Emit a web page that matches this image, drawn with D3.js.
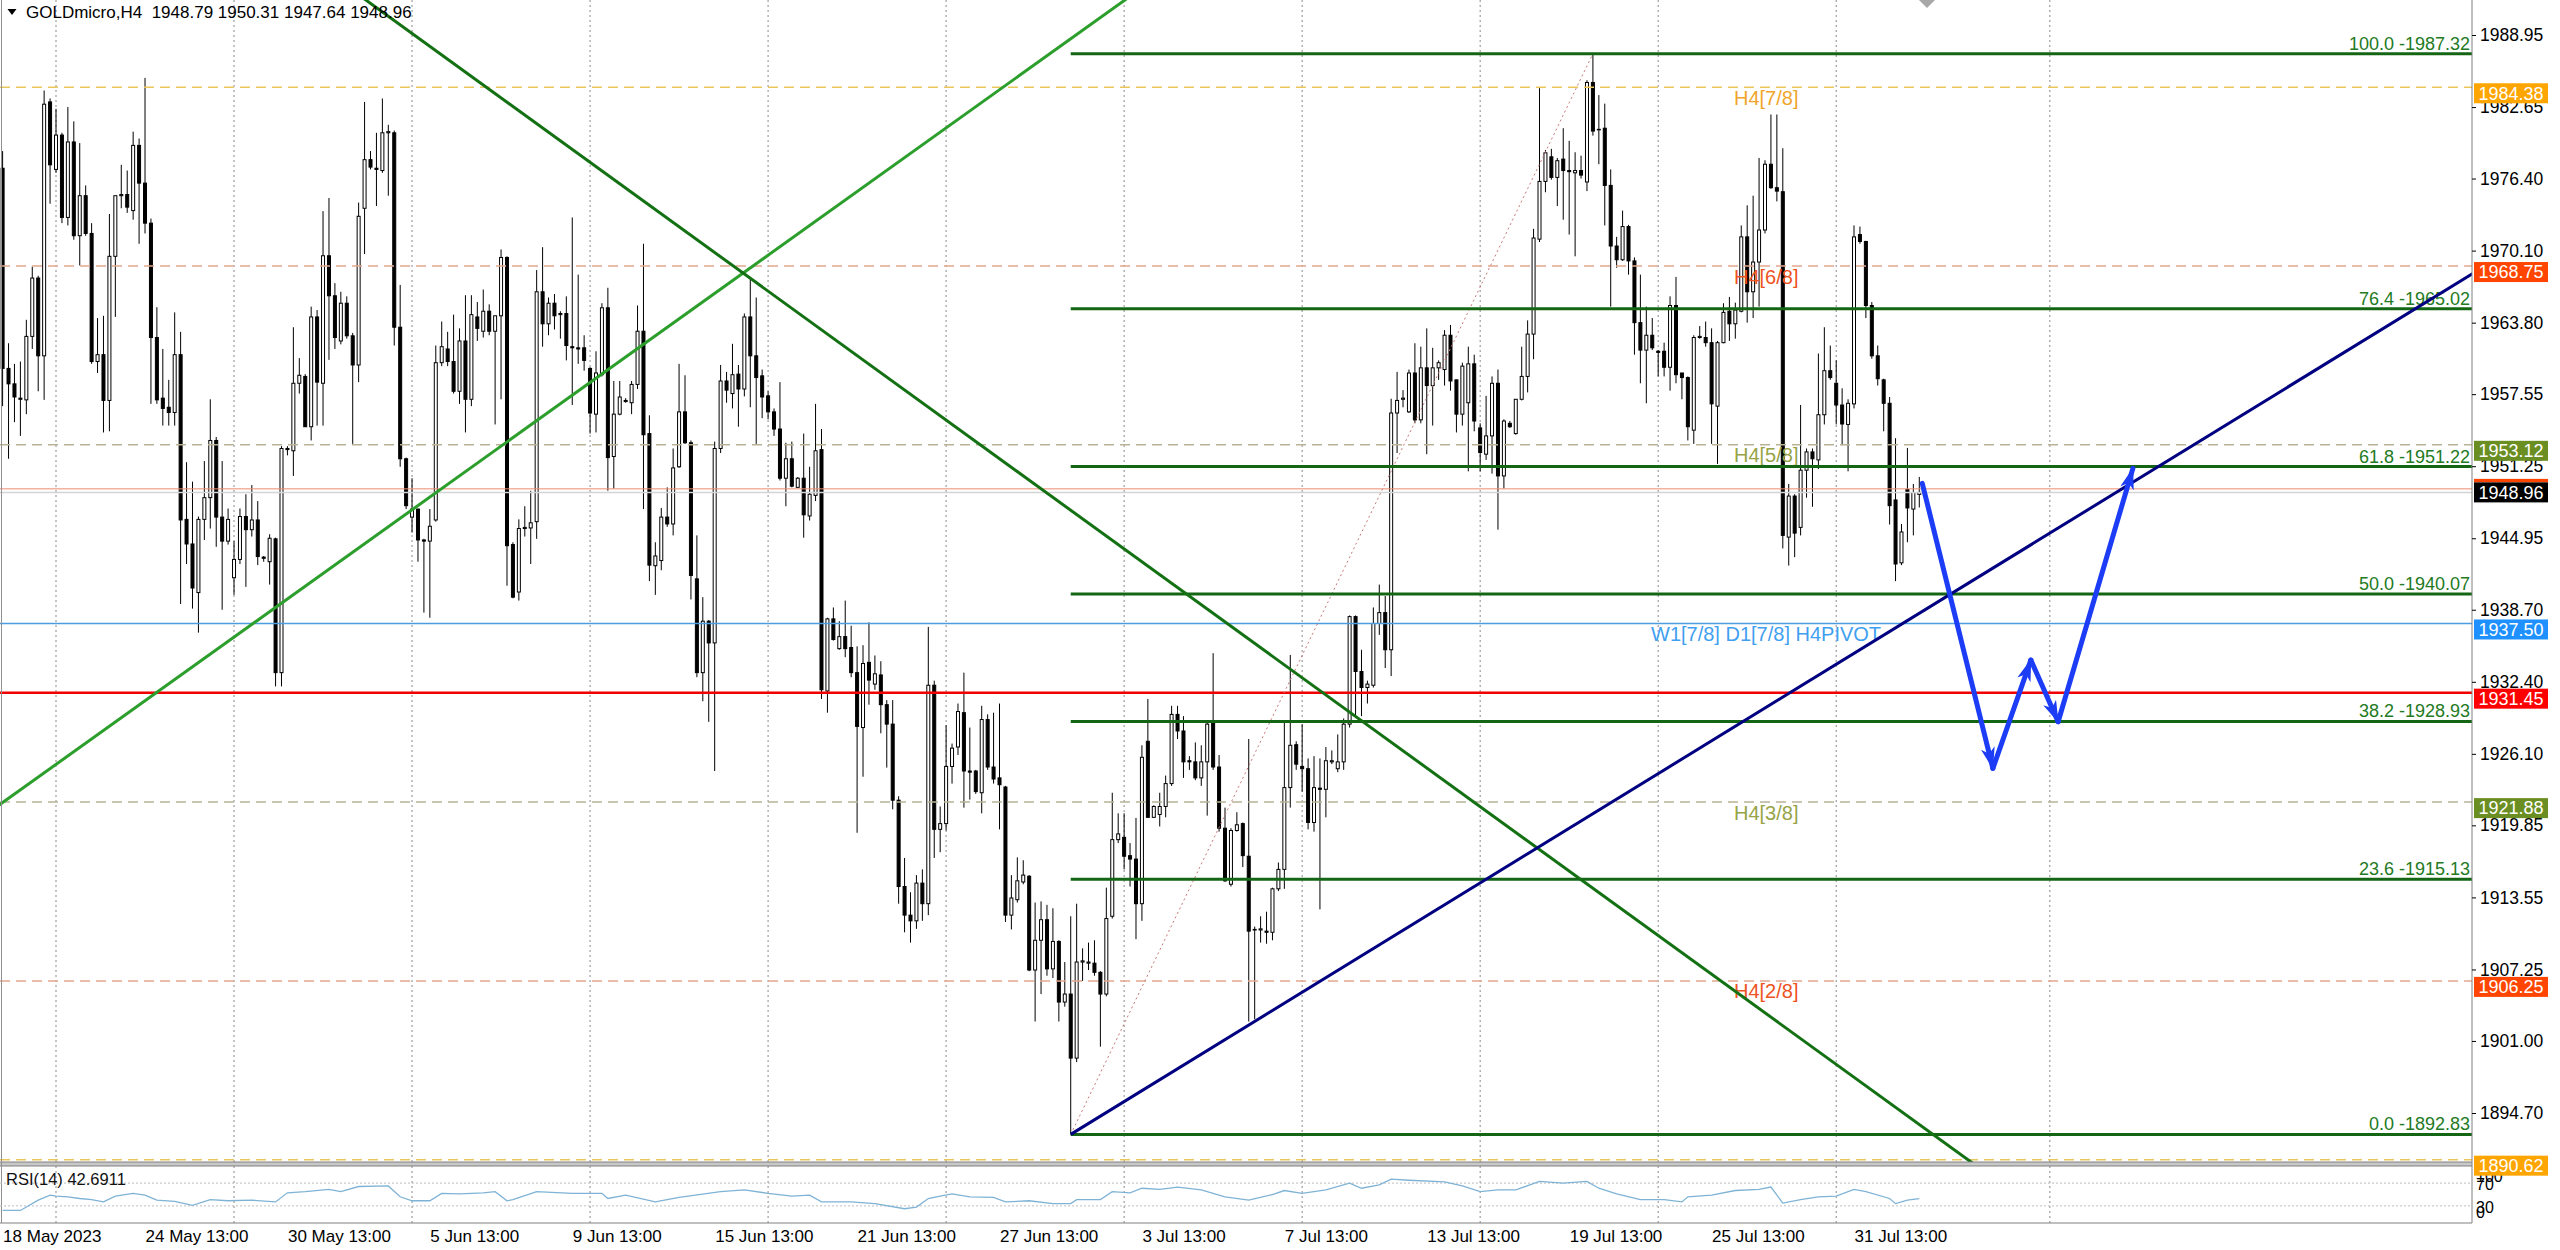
<!DOCTYPE html>
<html><head><meta charset="utf-8">
<script src="https://cdn.jsdelivr.net/npm/d3@7"></script>
<style>
body{margin:0;background:#fff;}
svg{display:block;}
text{font-family:"Liberation Sans",Arial,sans-serif;}
</style>
</head><body>
<svg id="c" width="2560" height="1250"></svg>
<script>
// ---------------- DATA ----------------
const priceTicks=[1988.95,1982.65,1976.40,1970.10,1963.80,1957.55,1951.25,1944.95,1938.70,1932.40,1926.10,1919.85,1913.55,1907.25,1901.00,1894.70];
const timeLabelBars=[0,24,48,72,96,120,144,168,192,216,240,264,288,312];
const timeLabels=["18 May 2023","24 May 13:00","30 May 13:00","5 Jun 13:00","9 Jun 13:00","15 Jun 13:00","21 Jun 13:00","27 Jun 13:00","3 Jul 13:00","7 Jul 13:00","13 Jul 13:00","19 Jul 13:00","25 Jul 13:00","31 Jul 13:00"];
const weekStartBars=[9,39,69,99,129,159,189,219,249,279,309,345];

const opens=[
1977.3,1959.8,1958.45,1957.2,1957.05,1962.6,1967.7,1960.9,1983.1,1977.2,
1980.2,1973.0,1979.6,1971.4,1974.9,1971.6,1960.4,1961.0,1957.0,1969.6,
1974.9,1975.0,1973.6,1979.3,1976.0,1972.5,1962.5,1957.2,1956.4,1955.95,
1961.0,1946.6,1944.45,1940.2,1946.6,1948.5,1953.5,1946.8,1944.7,1941.5,
1943.1,1946.85,1945.7,1946.55,1943.3,1942.9,1944.9,1933.2,1952.8,1952.6,
1958.5,1959.1,1954.7,1964.3,1958.5,1969.65,1966.15,1962.2,1965.5,1962.65,
1960.1,1973.8,1978.05,1977.3,1977.1,1980.4,1980.4,1963.4,1951.9,1946.8,
1947.5,1944.8,1944.7,1946.55,1960.3,1961.5,1960.4,1957.8,1962.2,1957.1,
1964.3,1963.05,1964.8,1963.05,1964.4,1969.5,1944.4,1940.25,1945.8,1945.85,
1946.4,1966.5,1963.7,1965.5,1964.5,1964.6,1961.7,1961.6,1961.6,1959.8,
1955.8,1959.25,1965.1,1952.1,1955.8,1957.0,1956.8,1958.4,1963.05,1954.1,
1942.55,1943.0,1946.8,1946.2,1951.2,1956.0,1953.3,1941.4,1933.2,1937.7,
1935.8,1952.8,1958.7,1957.6,1959.3,1958.0,1964.3,1960.9,1959.15,1957.4,
1956.0,1954.5,1950.2,1951.9,1949.4,1950.2,1946.9,1948.7,1952.7,1931.6,
1937.9,1935.3,1936.35,1935.4,1933.2,1928.4,1934.1,1932.2,1933.0,1930.4,
1928.7,1922.05,1914.5,1912.0,1911.5,1914.8,1913.0,1932.1,1919.5,1920.0,
1925.0,1926.7,1929.7,1924.6,1924.6,1922.7,1929.1,1924.95,1924.0,1923.2,
1912.0,1913.35,1914.9,1915.4,1907.2,1909.8,1911.6,1907.3,1909.7,1904.4,
1905.1,1899.5,1907.9,1907.8,1907.8,1907.0,1905.1,1911.9,1918.6,1918.8,
1917.2,1916.9,1913.0,1927.2,1920.55,1920.8,1921.5,1923.5,1929.55,1928.1,
1925.5,1925.4,1924.0,1925.4,1928.8,1924.95,1919.6,1914.7,1919.4,1920.0,
1917.15,1910.75,1910.7,1910.6,1910.5,1914.3,1916.0,1923.15,1926.9,1925.0,
1924.8,1920.1,1923.1,1923.0,1925.4,1924.8,1925.4,1928.7,1938.1,1933.3,
1931.9,1932.1,1937.5,1938.45,1935.2,1955.9,1957.1,1956.0,1959.4,1955.3,
1959.85,1958.3,1959.85,1959.7,1962.7,1958.8,1955.8,1956.8,1960.2,1954.6,
1952.3,1953.9,1958.5,1950.4,1955.0,1954.1,1957.1,1959.1,1962.8,1971.1,
1976.15,1978.3,1976.5,1978.1,1977.1,1976.9,1977.1,1976.1,1984.8,1980.7,
1980.8,1975.8,1970.5,1969.3,1972.2,1969.2,1963.8,1961.4,1962.7,1961.3,
1961.3,1959.9,1965.3,1959.4,1959.0,1954.4,1962.5,1962.5,1962.05,1956.5,
1962.05,1964.8,1963.7,1964.8,1971.3,1966.5,1969.1,1971.9,1977.65,1975.6,
1975.25,1945.05,1948.64,1945.9,1950.9,1952.5,1951.8,1955.75,1959.6,1958.5,
1956.6,1954.9,1956.7,1971.5,1970.9,1965.3,1960.9,1958.8,1956.75,1948.3,
1942.8,1949.2,1947.5,1948.79];
const highs=[
1978.8,1962.0,1960.2,1960.4,1964.05,1968.7,1967.9,1984.1,1983.4,1982.5,
1980.4,1982.65,1981.4,1979.5,1975.8,1972.5,1964.2,1964.4,1973.3,1974.9,
1977.6,1977.1,1980.5,1979.9,1985.2,1972.9,1965.15,1961.5,1958.8,1964.7,
1963.0,1951.6,1949.9,1946.85,1951.7,1957.1,1953.8,1951.7,1947.55,1944.7,
1947.55,1948.8,1949.6,1948.2,1943.4,1945.3,1945.0,1953.0,1953.0,1963.4,
1960.7,1959.3,1965.2,1964.9,1973.55,1974.7,1967.25,1966.5,1966.1,1962.9,
1974.3,1983.1,1978.8,1980.4,1983.4,1981.1,1980.6,1967.1,1952.0,1950.2,
1947.55,1944.9,1947.5,1961.8,1963.9,1963.0,1964.5,1963.3,1966.2,1966.2,
1965.6,1966.7,1965.4,1964.4,1970.2,1969.6,1944.6,1946.6,1947.75,1949.1,
1968.4,1970.4,1966.0,1966.3,1964.8,1966.1,1973.0,1968.0,1962.7,1959.9,
1961.3,1965.5,1966.85,1958.7,1958.7,1957.2,1958.7,1965.3,1970.7,1955.7,
1944.6,1947.6,1949.4,1952.8,1960.2,1959.2,1953.5,1945.2,1939.8,1937.8,
1953.4,1960.1,1959.5,1961.95,1960.1,1964.6,1967.7,1966.0,1959.7,1957.8,
1956.3,1958.6,1953.3,1953.4,1950.3,1954.1,1951.2,1956.7,1954.5,1938.0,
1938.9,1937.7,1939.5,1937.3,1935.5,1935.6,1937.6,1934.7,1934.2,1930.8,
1930.8,1922.4,1917.0,1914.0,1915.5,1916.0,1937.2,1932.5,1921.5,1928.6,
1927.0,1930.5,1933.2,1928.4,1924.7,1930.3,1929.55,1929.7,1930.5,1923.3,
1915.5,1917.05,1916.8,1915.5,1913.1,1913.2,1912.9,1912.6,1909.8,1907.9,
1911.9,1913.0,1909.1,1909.6,1909.8,1907.1,1914.4,1922.7,1920.9,1920.9,
1918.3,1920.5,1926.85,1930.9,1921.6,1922.7,1924.2,1930.3,1930.3,1929.4,
1925.9,1927.1,1926.85,1928.8,1934.9,1926.0,1921.4,1919.6,1921.0,1920.1,
1927.4,1911.0,1911.9,1912.3,1914.4,1916.6,1928.9,1934.75,1927.2,1928.7,
1925.7,1925.9,1925.7,1926.7,1926.4,1927.8,1929.2,1938.2,1938.2,1935.2,
1932.5,1938.9,1940.9,1939.9,1957.15,1959.5,1957.9,1959.7,1962.0,1961.7,
1963.3,1961.6,1960.5,1963.15,1963.6,1958.8,1960.3,1961.7,1961.0,1955.0,
1957.4,1959.1,1959.7,1955.35,1955.2,1957.1,1961.7,1964.0,1972.0,1984.3,
1978.9,1979.0,1978.2,1980.8,1979.7,1978.7,1978.4,1985.0,1987.32,1983.7,
1982.95,1977.2,1971.3,1973.6,1972.35,1969.5,1968.0,1965.2,1964.2,1961.4,
1962.05,1966.1,1967.8,1959.4,1959.1,1962.7,1963.5,1963.9,1963.3,1962.2,
1965.5,1966.05,1965.55,1972.3,1974.06,1974.9,1978.2,1978.0,1982.0,1982.0,
1979.05,1949.7,1948.8,1956.6,1952.8,1952.8,1961.1,1963.4,1961.8,1960.5,
1958.06,1957.1,1972.3,1972.2,1970.95,1965.6,1961.8,1958.9,1957.3,1953.7,
1946.2,1952.85,1949.7,1950.31];
const lows=[
1956.5,1951.9,1955.1,1953.9,1955.8,1961.5,1957.8,1957.05,1974.2,1976.9,
1972.5,1972.3,1971.05,1968.8,1971.4,1960.2,1959.4,1954.2,1954.3,1964.3,
1973.8,1973.4,1972.8,1970.7,1971.6,1956.7,1956.7,1954.8,1954.8,1954.8,
1939.2,1942.7,1938.8,1936.7,1944.8,1945.8,1944.2,1938.7,1944.4,1940.0,
1942.7,1940.7,1945.1,1942.6,1942.9,1940.9,1932.0,1932.0,1952.2,1950.4,
1957.6,1954.7,1953.5,1954.8,1954.8,1960.55,1961.5,1961.9,1962.4,1953.2,
1958.6,1969.8,1977.2,1974.0,1976.9,1974.9,1961.8,1951.2,1947.5,1945.45,
1942.9,1938.45,1938.0,1946.4,1960.0,1960.0,1957.6,1956.7,1954.2,1956.5,
1962.2,1962.5,1962.7,1954.9,1957.1,1940.8,1939.7,1939.5,1945.1,1942.7,
1944.9,1961.7,1962.7,1963.2,1962.4,1960.5,1956.6,1960.2,1959.6,1954.1,
1954.2,1959.1,1949.1,1949.3,1955.7,1956.8,1955.8,1958.0,1947.5,1941.2,
1940.0,1942.15,1945.95,1945.2,1951.1,1953.2,1939.6,1932.8,1930.7,1928.9,
1924.6,1952.4,1956.8,1956.3,1954.7,1957.35,1956.4,1953.2,1955.45,1955.35,
1953.9,1950.0,1947.75,1949.4,1949.4,1945.0,1946.5,1948.2,1930.9,1929.7,
1936.0,1935.2,1934.55,1932.8,1919.2,1924.1,1930.4,1931.7,1927.9,1924.9,
1921.25,1913.0,1910.5,1909.6,1910.8,1911.5,1912.0,1917.0,1917.5,1919.4,
1923.5,1926.0,1921.4,1922.1,1922.6,1920.9,1924.7,1923.5,1919.5,1911.4,
1910.75,1913.1,1914.7,1907.1,1902.7,1905.1,1906.7,1906.5,1902.7,1904.0,
1892.83,1899.15,1906.25,1907.2,1906.7,1900.5,1904.9,1911.7,1918.3,1916.0,
1914.5,1909.9,1911.5,1920.5,1920.5,1919.75,1920.55,1923.3,1927.4,1924.0,
1924.7,1923.8,1923.3,1920.7,1924.7,1919.3,1914.9,1914.5,1919.3,1916.2,
1902.7,1902.9,1909.6,1909.5,1909.8,1914.1,1914.3,1921.4,1924.7,1922.8,
1919.5,1919.3,1912.5,1920.55,1925.2,1924.5,1924.7,1928.4,1929.45,1929.4,
1930.5,1931.9,1936.5,1933.6,1932.9,1952.4,1956.4,1955.9,1955.0,1955.0,
1952.3,1954.8,1958.8,1958.3,1957.85,1954.2,1954.8,1950.8,1954.3,1950.8,
1951.8,1950.6,1945.7,1949.3,1954.6,1954.0,1957.0,1957.7,1960.6,1970.85,
1975.2,1976.3,1974.0,1972.8,1971.5,1969.6,1976.4,1975.3,1980.15,1977.65,
1972.3,1965.2,1968.6,1969.2,1968.0,1961.0,1958.5,1956.75,1961.4,1959.1,
1959.1,1957.85,1958.5,1957.1,1953.5,1953.2,1962.4,1961.7,1953.2,1951.45,
1962.0,1962.2,1962.4,1964.7,1963.8,1964.2,1965.2,1971.6,1975.5,1974.4,
1944.06,1942.56,1943.3,1945.2,1948.5,1947.7,1951.0,1954.9,1958.8,1954.9,
1953.07,1950.8,1956.3,1970.7,1964.2,1960.65,1958.3,1954.3,1946.15,1941.2,
1942.6,1944.6,1945.2,1947.64];
const closes=[
1959.8,1958.45,1957.3,1957.1,1962.6,1967.7,1960.9,1982.9,1977.6,1980.2,
1973.0,1979.6,1971.4,1974.9,1971.6,1960.4,1961.0,1957.0,1969.6,1974.9,
1975.0,1973.9,1979.3,1976.0,1972.5,1962.5,1957.05,1956.3,1955.95,1961.0,
1946.55,1944.45,1940.6,1946.6,1948.5,1953.5,1946.8,1944.7,1946.6,1943.1,
1946.85,1945.7,1946.55,1943.35,1943.2,1944.95,1933.2,1952.8,1952.7,1958.5,
1959.2,1954.7,1964.3,1958.6,1969.65,1966.15,1962.5,1965.5,1962.65,1960.1,
1973.1,1978.05,1977.4,1977.2,1980.4,1980.5,1963.4,1951.9,1947.8,1947.5,
1944.8,1944.7,1946.0,1960.3,1961.7,1960.4,1957.8,1962.2,1957.1,1964.5,
1963.3,1964.8,1963.05,1964.4,1969.5,1944.3,1939.8,1945.8,1945.9,1946.3,
1966.5,1963.7,1965.5,1964.4,1964.6,1961.8,1961.6,1961.5,1960.5,1955.9,
1959.4,1965.1,1952.0,1955.8,1957.3,1956.9,1958.4,1963.05,1954.0,1942.6,
1943.4,1946.8,1946.2,1951.1,1956.0,1953.3,1941.7,1933.2,1937.7,1935.8,
1952.8,1958.7,1957.9,1959.25,1958.0,1964.3,1960.9,1959.0,1957.3,1956.0,
1954.5,1950.2,1951.9,1949.5,1950.2,1947.0,1948.8,1952.6,1931.7,1937.9,
1936.1,1936.35,1935.3,1933.2,1928.5,1934.0,1932.55,1933.1,1930.4,1928.7,
1922.05,1914.5,1912.0,1911.5,1914.8,1913.0,1932.1,1919.5,1920.0,1925.0,
1926.6,1929.8,1924.6,1924.5,1922.8,1929.1,1924.95,1923.9,1923.4,1912.0,
1913.5,1915.0,1915.5,1907.2,1909.8,1911.6,1907.3,1909.7,1904.4,1905.1,
1899.5,1907.9,1908.0,1907.9,1907.0,1905.1,1911.7,1918.6,1919.1,1917.15,
1916.9,1913.0,1925.8,1920.55,1921.5,1921.5,1923.5,1929.55,1928.1,1925.4,
1925.4,1924.0,1925.4,1928.7,1924.95,1919.6,1915.0,1919.4,1919.9,1917.2,
1910.6,1910.7,1910.8,1910.5,1914.3,1916.0,1923.15,1926.85,1925.2,1924.8,
1920.1,1923.15,1923.0,1925.5,1925.5,1925.4,1928.7,1938.1,1933.3,1931.9,
1932.2,1937.5,1938.45,1935.2,1955.9,1957.0,1957.2,1959.4,1955.3,1959.85,
1958.3,1959.85,1960.3,1962.7,1958.7,1955.8,1960.0,1960.2,1955.2,1952.45,
1953.9,1958.5,1950.4,1955.2,1954.7,1957.1,1959.1,1962.8,1971.2,1976.15,
1978.65,1976.5,1977.96,1977.1,1977.0,1977.1,1976.7,1984.8,1980.55,1980.7,
1975.8,1970.5,1969.3,1972.2,1969.2,1963.8,1961.4,1962.7,1961.6,1961.2,
1959.9,1965.3,1959.25,1959.0,1954.7,1962.5,1962.6,1962.05,1956.7,1962.05,
1964.7,1963.7,1964.9,1971.3,1966.5,1969.1,1971.9,1977.65,1975.6,1975.3,
1945.2,1948.64,1945.4,1950.9,1952.5,1951.9,1955.75,1959.6,1959.0,1956.6,
1954.94,1956.75,1971.3,1970.9,1965.3,1960.9,1958.9,1956.75,1947.8,1942.7,
1945.5,1947.6,1948.95,1948.96];

const rsiBars=[0,3,6,8,9,11,13,15,17,19,22,24,26,29,32,35,38,42,46,48,51,55,57,60,65,67,69,72,74,77,81,83,85,86,90,96,101,102,105,110,114,121,125,129,133,136,138,143,147,152,154,156,158,160,163,167,169,173,177,180,181,185,187,190,192,195,198,202,206,210,214,216,219,223,227,229,232,234,237,243,246,249,252,255,259,263,267,269,272,276,280,283,284,288,292,296,298,300,303,306,309,312,314,318,319,321,323];
const rsiValues=[22,22,40,49,47,46,43,41,37,47,52,49,40,38,31,41,39,40,37,53,55,59,55,64,65,46,39,39,52,51,53,55,39,41,55,52,52,43,49,37,45,55,58,52,47,49,37,37,34,25,28,43,47,51,46,45,37,39,34,34,41,41,55,53,61,59,63,58,46,40,50,57,52,58,70,61,67,77,75,72,65,55,58,58,73,70,73,61,51,41,41,37,46,49,57,59,63,35,41,46,47,59,55,43,34,40,42.6911];
const rsiLevels=[100,70,30,0];

const levelPrices=[1984.38,1968.75,1953.12,1937.50,1931.45,1921.88,1906.25,1890.62];
const levelTexts=["H4[7/8]","H4[6/8]","H4[5/8]","W1[7/8] D1[7/8] H4PIVOT","","H4[3/8]","H4[2/8]",""];
const bidPrice=1948.96, askLinePrice=1949.27;

const fibLevels=[100.0,76.4,61.8,50.0,38.2,23.6,0.0];
const fibPrices=[1987.32,1965.02,1951.22,1940.07,1928.93,1915.13,1892.83];
const fibAnchorLow=[180,1892.83], fibAnchorHigh=[268,1987.32];

const greenRisingLine=[[0,1921.84],[80,1951.52]];
const greenFallingLine=[[160,1954.91],[250,1921.11]];
const navyTrendLine=[[180,1892.83],[300,1931.06]];
const forecastPath=[[323.5,1949.75],[335.4,1924.83],[341.8,1934.30],[346.4,1928.91],[359.0,1951.06]];

// ---------------- LAYOUT / STYLE ----------------
const W=2560,H=1250,plotR=2472,mainBot=1162,rsiTop=1166,rsiBot=1223;
const levelStyle=[
 {c:"#e9c75a",dash:"10,6",w:1.5,box:"#ffa500",tc:"#f0a52a"},
 {c:"#e3a88e",dash:"10,6",w:1.5,box:"#ff4500",tc:"#ee5322"},
 {c:"#b9b396",dash:"10,6",w:1.5,box:"#6b8e23",tc:"#97a346"},
 {c:"#4a9de0",dash:null,w:1.5,box:"#1e90ff",tc:"#3fa0f0"},
 {c:"#f00000",dash:null,w:2.5,box:"#ff0000",tc:"#f00000"},
 {c:"#b9b396",dash:"10,6",w:1.5,box:"#6b8e23",tc:"#97a346"},
 {c:"#e3a88e",dash:"10,6",w:1.5,box:"#ff4500",tc:"#ee5322"},
 {c:"#e9c75a",dash:"10,6",w:1.5,box:"#ffa500",tc:"#f0a52a"}];
const levelTextX=[1734,1734,1734,1651,0,1734,1734,0];

const x=d3.scaleLinear().domain([0,100]).range([2.6,2.6+593.4]);
const y=d3.scaleLinear().domain([1894.70,1988.95]).range([1113,35]);
const yR=d3.scaleLinear().domain([0,100]).range([rsiBot,rsiTop]);

const svg=d3.select("#c");
svg.append("rect").attr("width",W).attr("height",H).attr("fill","#fff");
const defs=svg.append("defs");
defs.append("clipPath").attr("id","clipMain").append("rect").attr("x",0).attr("y",0).attr("width",plotR).attr("height",mainBot);
defs.append("clipPath").attr("id","clipRsi").append("rect").attr("x",0).attr("y",rsiTop).attr("width",plotR).attr("height",rsiBot-rsiTop);
defs.append("marker").attr("id","arr").attr("markerUnits","userSpaceOnUse").attr("viewBox","0 0 22 14")
  .attr("markerWidth",22).attr("markerHeight",14).attr("refX",21).attr("refY",7).attr("orient","auto")
  .append("path").attr("d","M0,0 L22,7 L0,14 L6,7 Z").attr("fill","#1c3cf5");

// vertical grid
const grid=svg.append("g");
weekStartBars.forEach(b=>{
  grid.append("line").attr("x1",x(b)).attr("x2",x(b)).attr("y1",0).attr("y2",mainBot).attr("stroke","#8a8a8a").attr("stroke-dasharray","2,3").attr("stroke-width",1);
  grid.append("line").attr("x1",x(b)).attr("x2",x(b)).attr("y1",rsiTop).attr("y2",rsiBot).attr("stroke","#8a8a8a").attr("stroke-dasharray","2,3").attr("stroke-width",1);
});

const main=svg.append("g").attr("clip-path","url(#clipMain)");
const bars=d3.range(opens.length);
// candles
main.append("g").selectAll("line").data(bars).join("line")
  .attr("x1",i=>x(i)).attr("x2",i=>x(i)).attr("y1",i=>y(highs[i])).attr("y2",i=>y(lows[i]))
  .attr("stroke","#000").attr("stroke-width",1);
main.append("g").selectAll("rect").data(bars).join("rect")
  .attr("x",i=>x(i)-1.5).attr("width",3)
  .attr("y",i=>y(Math.max(opens[i],closes[i])))
  .attr("height",i=>Math.max(0.5,Math.abs(y(opens[i])-y(closes[i]))))
  .attr("fill",i=>closes[i]>=opens[i]?"#fff":"#000").attr("stroke","#000").attr("stroke-width",1);

// horizontal levels
levelPrices.forEach((p,k)=>{
  const s=levelStyle[k];
  const ln=main.append("line").attr("x1",0).attr("x2",plotR).attr("y1",y(p)).attr("y2",y(p))
    .attr("stroke",s.c).attr("stroke-width",s.w);
  if(s.dash) ln.attr("stroke-dasharray",s.dash);
  if(levelTexts[k]) main.append("text").attr("x",levelTextX[k]).attr("y",y(p)+17.5)
    .attr("font-size",20).attr("fill",s.tc).text(levelTexts[k]);
});
main.append("line").attr("x1",0).attr("x2",plotR).attr("y1",y(askLinePrice)).attr("y2",y(askLinePrice)).attr("stroke","#ee8a70").attr("stroke-width",1);
main.append("line").attr("x1",0).attr("x2",plotR).attr("y1",y(bidPrice)).attr("y2",y(bidPrice)).attr("stroke","#d4d4d4").attr("stroke-width",1.5);

// fibonacci
main.append("line").attr("x1",x(fibAnchorLow[0])).attr("y1",y(fibAnchorLow[1])).attr("x2",x(fibAnchorHigh[0])).attr("y2",y(fibAnchorHigh[1]))
  .attr("stroke","#c87878").attr("stroke-width",1).attr("stroke-dasharray","2,3");
fibPrices.forEach((p,k)=>{
  main.append("line").attr("x1",x(fibAnchorLow[0])).attr("x2",plotR).attr("y1",y(p)).attr("y2",y(p)).attr("stroke","#146614").attr("stroke-width",3);
  main.append("text").attr("x",plotR-2).attr("y",y(p)-4).attr("text-anchor","end").attr("font-size",18).attr("fill","#237a23")
    .text(fibLevels[k].toFixed(1)+" -"+p.toFixed(2));
});

// trend lines
function extLine(a,i0,i1){const s=(a[1][1]-a[0][1])/(a[1][0]-a[0][0]);return [[i0,a[0][1]+s*(i0-a[0][0])],[i1,a[0][1]+s*(i1-a[0][0])]];}
const lineGen=d3.line().x(d=>x(d[0])).y(d=>y(d[1]));
main.append("path").attr("d",lineGen(extLine(greenRisingLine,-10,430))).attr("stroke","#2c9e2c").attr("stroke-width",3).attr("fill","none");
main.append("path").attr("d",lineGen(extLine(greenFallingLine,-10,430))).attr("stroke","#137013").attr("stroke-width",3).attr("fill","none");
main.append("path").attr("d",lineGen(extLine(navyTrendLine,navyTrendLine[0][0],430))).attr("stroke","#000080").attr("stroke-width",3).attr("fill","none");

// forecast arrows
for(let k=0;k<forecastPath.length-1;k++){
  main.append("line").attr("x1",x(forecastPath[k][0])).attr("y1",y(forecastPath[k][1]))
    .attr("x2",x(forecastPath[k+1][0])).attr("y2",y(forecastPath[k+1][1]))
    .attr("stroke","#1c3cf5").attr("stroke-width",5).attr("stroke-linecap","round").attr("marker-end","url(#arr)");
}
// shift marker
const sx=x(324.3);
svg.append("path").attr("d",`M${sx-8},0 L${sx+8},0 L${sx},8 Z`).attr("fill","#a8a8a8");

// pane separators / borders
svg.append("rect").attr("x",0).attr("y",mainBot).attr("width",plotR).attr("height",rsiTop-mainBot).attr("fill","#c8c8c8");
svg.append("line").attr("x1",0).attr("x2",plotR).attr("y1",mainBot).attr("y2",mainBot).attr("stroke","#808080");
svg.append("line").attr("x1",0).attr("x2",plotR).attr("y1",rsiTop).attr("y2",rsiTop).attr("stroke","#808080");
svg.append("line").attr("x1",0).attr("x2",plotR).attr("y1",rsiBot).attr("y2",rsiBot).attr("stroke","#808080");
svg.append("line").attr("x1",plotR).attr("x2",plotR).attr("y1",0).attr("y2",rsiBot).attr("stroke","#808080");
svg.append("line").attr("x1",1.5).attr("x2",1.5).attr("y1",0).attr("y2",rsiBot).attr("stroke","#909090");

// RSI pane
const rsiG=svg.append("g").attr("clip-path","url(#clipRsi)");
[70,30].forEach(v=>rsiG.append("line").attr("x1",0).attr("x2",plotR).attr("y1",yR(v)).attr("y2",yR(v)).attr("stroke","#bdbdbd").attr("stroke-dasharray","2,2"));
rsiG.append("path").datum(rsiValues).attr("fill","none").attr("stroke","#7fb3d6").attr("stroke-width",1.3)
  .attr("d",d3.line().x((d,k)=>x(rsiBars[k])).y(d=>yR(d)));
svg.append("text").attr("x",6).attr("y",1185).attr("font-size",16.5).attr("fill","#111")
  .text("RSI(14) "+rsiValues[rsiValues.length-1].toFixed(4));
rsiLevels.forEach(v=>{
  const yy=Math.min(1212,Math.max(1176,yR(v)+1));
  svg.append("text").attr("x",plotR+4).attr("y",yy).attr("dy","0.35em").attr("font-size",16).attr("fill","#000").text(v);
});

// price axis
const gy=svg.append("g").attr("transform",`translate(${plotR},0)`)
  .call(d3.axisRight(y).tickValues(priceTicks).tickFormat(d3.format(".2f")).tickSize(4).tickPadding(4));
gy.select(".domain").remove();
gy.selectAll("text").attr("font-size",17.5).attr("fill","#000").style("font-family",'"Liberation Sans",Arial,sans-serif');
gy.selectAll("line").attr("stroke","#000");

// level boxes on axis
const boxG=svg.append("g");
boxG.append("rect").attr("x",plotR+2).attr("y",y(bidPrice)-13.5).attr("width",74).attr("height",3.5).attr("fill","#ff4500");
boxG.append("rect").attr("x",plotR+2).attr("y",y(bidPrice)-10).attr("width",74).attr("height",20).attr("fill","#000");
boxG.append("text").attr("x",plotR+39).attr("y",y(bidPrice)).attr("dy","0.35em").attr("text-anchor","middle").attr("font-size",18).attr("fill","#fff").text(bidPrice.toFixed(2));
levelPrices.forEach((p,k)=>{
  boxG.append("rect").attr("x",plotR+2).attr("y",y(p)-4).attr("width",74).attr("height",20).attr("fill",levelStyle[k].box);
  boxG.append("text").attr("x",plotR+39).attr("y",y(p)+6).attr("dy","0.35em").attr("text-anchor","middle").attr("font-size",18).attr("fill","#fff").text(p.toFixed(2));
});

// time axis
const gx=svg.append("g").attr("transform",`translate(0,${rsiBot})`)
  .call(d3.axisBottom(x).tickValues(timeLabelBars).tickFormat((d,i)=>timeLabels[i]).tickSize(0));
gx.select(".domain").remove();
gx.selectAll("text").attr("text-anchor","start").attr("font-size",17).attr("fill","#000").attr("y",19).attr("dy",0)
  .style("font-family",'"Liberation Sans",Arial,sans-serif');

// title
const last=opens.length-1;
svg.append("path").attr("d","M7.5,9 L16.5,9 L12,15 Z").attr("fill","#000");
svg.append("text").attr("x",26).attr("y",18).attr("font-size",17).attr("fill","#000").style("white-space","pre")
  .text("GOLDmicro,H4  "+[opens[last],highs[last],lows[last],closes[last]].map(v=>v.toFixed(2)).join(" "));
</script>
</body></html>
